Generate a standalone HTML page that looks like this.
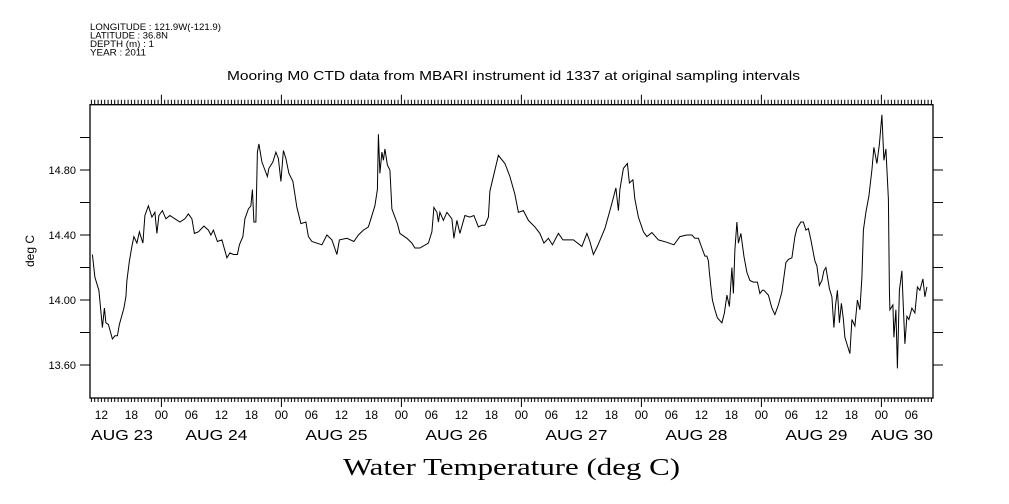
<!DOCTYPE html>
<html><head><meta charset="utf-8"><style>
html,body{margin:0;padding:0;background:#fff;}
svg{display:block;font-family:"Liberation Sans",sans-serif;}
</style></head><body>
<svg id="chart" width="1009" height="504" viewBox="0 0 1009 504">
<g font-size="9" fill="#000">
<text x="90" y="30" textLength="131" lengthAdjust="spacingAndGlyphs">LONGITUDE : 121.9W(-121.9)</text>
<text x="90" y="38.5" textLength="78" lengthAdjust="spacingAndGlyphs">LATITUDE : 36.8N</text>
<text x="90" y="47" textLength="64" lengthAdjust="spacingAndGlyphs">DEPTH (m) : 1</text>
<text x="90" y="55.5" textLength="56" lengthAdjust="spacingAndGlyphs">YEAR : 2011</text>
</g>
<text x="227" y="80" textLength="573" lengthAdjust="spacingAndGlyphs" font-size="13">Mooring M0 CTD data from MBARI instrument id 1337 at original sampling intervals</text>
<text transform="translate(34,251) rotate(-90)" text-anchor="middle" font-size="12">deg C</text>
<text x="343" y="475" textLength="337" lengthAdjust="spacingAndGlyphs" font-size="24" font-family="'Liberation Serif',serif">Water Temperature (deg C)</text>
<g id="axes"></g>
<g id="plot"></g>
</svg>
<script>
// hours since 2011-08-23 00:00
const hours=[10.2,10.7,11.5,12.2,12.6,12.9,13.4,14.2,14.7,15.2,15.6,16.5,16.9,17.1,17.6,18.1,18.5,19.1,19.6,20.3,20.7,21.4,22.1,22.7,23.1,23.5,24.2,24.9,25.7,26.7,27.7,28.7,29.4,30.1,30.6,31.4,32.5,33.4,33.9,34.4,35.2,36.1,37.1,37.7,38.4,39.2,39.6,40.3,40.7,41.4,41.9,42.2,42.5,42.9,43.2,43.5,44.1,44.7,45.2,45.5,46.3,46.9,47.4,47.9,48.4,48.9,49.5,50.3,51.1,51.9,52.9,53.4,54.1,56.1,57.1,58.1,59.1,59.6,61.1,62.5,63.4,64.4,65.4,65.9,66.7,67.2,67.4,67.7,68.1,68.4,68.7,69.2,69.7,70.1,70.7,71.2,71.7,73.1,74.1,74.7,75.7,77.4,78.1,78.5,79.1,79.4,79.7,80.4,81.1,82.1,82.5,83.1,83.7,84.7,85.7,86.5,87.4,88.1,88.7,89.4,89.7,91.4,92.7,93.7,94.7,95.4,96.4,97.4,98.7,99.7,100.5,101.4,102.2,103.4,104.3,105.1,106.4,108.1,109.1,109.7,110.4,111.2,112.7,113.7,114.4,114.9,115.4,115.7,116.4,117.2,117.6,118.3,118.7,119.4,120.4,121.1,122.1,123.4,125.1,126.5,127.7,129.1,130.1,130.7,131.4,132.1,132.7,133.1,133.4,133.6,133.9,134.2,134.7,135.2,136.1,136.6,137.1,137.6,138.1,138.4,138.7,139.1,139.4,139.9,140.5,141.1,141.7,142.4,143.2,143.7,144.2,144.5,145.4,146.1,146.7,147.4,148.1,148.9,149.4,150.1,150.7,151.1,151.9,152.4,152.9,153.4,153.9,154.7,155.1,155.6,156.1,156.5,156.9,157.6,158.1,158.5,158.8,159.2,159.6,160.0,160.4,160.7,161.1,161.7,162.1,162.7,163.2,163.7,164.1,164.4,164.9,165.5,166.1,166.5,167.1,167.6,168.1,168.5,168.9,169.4,169.6,169.7,170.3,170.5,170.9,171.2,171.6,172.1,172.3,172.7,173.1,173.5,174.1,174.7,175.2,175.7,176.3,176.7,177.1,177.6];
const temps=[14.28,14.14,14.06,13.83,13.95,13.86,13.85,13.76,13.78,13.78,13.85,13.95,14.02,14.12,14.24,14.33,14.39,14.35,14.42,14.35,14.52,14.58,14.51,14.54,14.41,14.52,14.55,14.50,14.52,14.50,14.48,14.50,14.53,14.50,14.41,14.42,14.455,14.43,14.40,14.43,14.36,14.37,14.26,14.29,14.28,14.28,14.34,14.39,14.50,14.56,14.58,14.68,14.48,14.48,14.91,14.96,14.85,14.80,14.76,14.81,14.85,14.91,14.87,14.73,14.92,14.87,14.78,14.73,14.57,14.47,14.48,14.39,14.36,14.34,14.40,14.37,14.28,14.37,14.38,14.36,14.40,14.43,14.45,14.50,14.58,14.68,15.02,14.78,14.91,14.86,14.93,14.83,14.80,14.56,14.51,14.47,14.41,14.38,14.35,14.32,14.32,14.35,14.42,14.57,14.54,14.48,14.54,14.49,14.54,14.50,14.38,14.49,14.41,14.52,14.51,14.52,14.45,14.46,14.46,14.51,14.67,14.89,14.84,14.76,14.65,14.54,14.55,14.49,14.45,14.41,14.35,14.38,14.34,14.41,14.37,14.37,14.37,14.33,14.41,14.36,14.28,14.33,14.44,14.55,14.63,14.69,14.55,14.68,14.81,14.84,14.72,14.74,14.62,14.51,14.42,14.39,14.415,14.37,14.355,14.34,14.39,14.40,14.40,14.38,14.38,14.32,14.27,14.27,14.24,14.17,14.08,14.00,13.94,13.89,13.86,13.92,14.03,13.96,14.20,14.04,14.31,14.48,14.35,14.41,14.27,14.17,14.12,14.11,14.11,14.04,14.06,14.06,14.03,13.95,13.91,13.97,14.05,14.23,14.25,14.26,14.39,14.44,14.48,14.48,14.43,14.44,14.37,14.24,14.21,14.09,14.12,14.18,14.20,14.07,14.02,13.83,13.96,14.06,13.86,13.98,13.88,13.77,13.73,13.67,13.88,13.84,14.00,13.94,14.14,14.43,14.54,14.64,14.80,14.94,14.84,14.96,15.14,14.86,14.93,14.62,14.06,13.94,13.97,13.77,13.94,13.58,14.06,14.18,14.02,13.73,13.90,13.88,13.95,13.92,14.08,14.06,14.13,14.02,14.08];
const yTickValues=[15.0,14.8,14.6,14.4,14.2,14.0,13.8,13.6];
const yTickLabels=["","14.80","","14.40","","14.00","","13.60"];
const hourLabels=["12","18","00","06"];
const dayLabels=["AUG 23","AUG 24","AUG 25","AUG 26","AUG 27","AUG 28","AUG 29","AUG 30"];

const NS="http://www.w3.org/2000/svg";
const L=90,R=933,T=104.7,B=398;
const H0=9.72,H1=178.32,Y0=13.397,Y1=15.202;
const xs=h=>L+(h-H0)/(H1-H0)*(R-L);
const ys=v=>B-(v-Y0)/(Y1-Y0)*(B-T);
const axes=document.getElementById('axes'),plot=document.getElementById('plot');
function mk(tag,attrs,parent){const e=document.createElementNS(NS,tag);for(const k in attrs)e.setAttribute(k,attrs[k]);parent.appendChild(e);return e;}

const frame=mk('rect',{x:L,y:T,width:R-L,height:B-T,fill:'none',stroke:'#000','stroke-width':1.3},axes);



let td='';
for(let m=Math.ceil(H0*1.5);m<=H1*1.5;m++){const h=m/1.5;const x=xs(h).toFixed(1);const major=(Math.abs(h%24)<1e-6);
 td+=`M${x} ${T}V${T-(major?10:5)}M${x} ${B}V${B+(major?9:4)}`;}
yTickValues.forEach(v=>{const y=ys(v).toFixed(1);td+=`M${L} ${y}H${L-10}M${R} ${y}H${R+10}`;});
const ticks=mk('path',{d:td,stroke:'#000','stroke-width':1,fill:'none'},axes);



yTickValues.forEach((v,i)=>{if(!yTickLabels[i])return;
 const t=mk('text',{x:76,y:ys(v)+4,'text-anchor':'end','font-size':11},axes);t.textContent=yTickLabels[i];
 
 });

for(let h=12;h<=H1;h+=6){const t=mk('text',{x:xs(h),y:419,'text-anchor':'middle','font-size':12},axes);
 t.textContent=hourLabels[(h/6)%4===2?0:(h/6)%4===3?1:(h/6)%4===0?2:3];
 
 }

dayLabels.forEach((d,i)=>{let cx=xs(i*24+12)-5,anchor='middle';
 if(i===0){cx=L+1;anchor='start';} if(i===dayLabels.length-1){cx=R;anchor='end';}
 const t=mk('text',{x:cx,y:440,'text-anchor':anchor,'font-size':15,textLength:62,lengthAdjust:'spacingAndGlyphs'},axes);t.textContent=d;
 
 });

const line=mk('polyline',{points:hours.map((h,i)=>xs(h).toFixed(1)+','+ys(temps[i]).toFixed(1)).join(' '),fill:'none',stroke:'#000','stroke-width':1,'stroke-linejoin':'miter'},plot);


</script>
</body></html>
